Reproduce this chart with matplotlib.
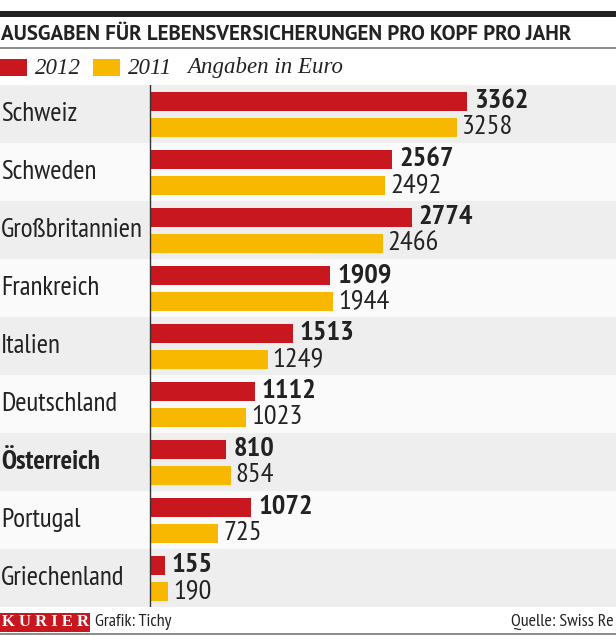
import matplotlib
matplotlib.use("Agg")
import matplotlib.pyplot as plt
from matplotlib.patches import Rectangle
import numpy as np

countries = ["Schweiz", "Schweden", "Großbritannien", "Frankreich", "Italien",
             "Deutschland", "Österreich", "Portugal", "Griechenland"]
values_2012 = [3362, 2567, 2774, 1909, 1513, 1112, 810, 1072, 155]
values_2011 = [3258, 2492, 2466, 1944, 1249, 1023, 854, 725, 190]
highlight = "Österreich"

RED = "#c8171e"
YELLOW = "#f8b800"
GRAY_ROW = "#efeeee"
WHITE_ROW = "#fafafa"
TEXT = "#222222"
FONT = ["PT Sans Narrow", "Liberation Sans Narrow", "DejaVu Sans"]
WIDE = ["PT Sans", "PT Sans Narrow", "DejaVu Sans"]
SERIF = ["Liberation Serif", "DejaVu Serif"]

W, H = 616, 636
fig = plt.figure(figsize=(W / 100, H / 100), dpi=100)
fig.patch.set_facecolor("white")


def fy(py):
    # pixel y from top -> figure fraction
    return 1 - py / H


def fx(px):
    return px / W


# header
fig.patches.append(Rectangle((0, fy(17)), 1, 6 / H, transform=fig.transFigure,
                             color="#222222", lw=0))
fig.text(fx(1), fy(34), "AUSGABEN FÜR LEBENSVERSICHERUNGEN PRO KOPF PRO JAHR",
         family=WIDE, weight="bold", fontsize=15, color=TEXT, va="center", ha="left")
fig.add_artist(plt.Line2D([0, 1], [fy(48), fy(48)], color="#777777", lw=1.2))

# legend
fig.patches.append(Rectangle((fx(0), fy(76)), 27 / W, 17 / H, transform=fig.transFigure,
                             color=RED, lw=0))
fig.text(fx(35), fy(68), "2012", family=SERIF, style="italic", fontsize=16.5,
         color=TEXT, va="center")
fig.patches.append(Rectangle((fx(93), fy(76)), 27 / W, 17 / H, transform=fig.transFigure,
                             color=YELLOW, lw=0))
fig.text(fx(128), fy(68), "2011", family=SERIF, style="italic", fontsize=16.5,
         color=TEXT, va="center")
fig.text(fx(187), fy(68), "Angaben in Euro", family=SERIF, style="italic", fontsize=16.5,
         color=TEXT, va="center")

# main chart
top, bottom = 85, 607
ax = fig.add_axes([0, fy(bottom), 1, (bottom - top) / H])
scale = 0.0943  # px per euro
ax.set_xlim(-150 / scale, (W - 150) / scale)
n = len(countries)
ax.set_ylim(n, 0)
ax.axis("off")

y = np.arange(n) + 0.5
for i in range(n):
    ax.axhspan(i, i + 1, color=GRAY_ROW if i % 2 == 0 else WHITE_ROW, lw=0, zorder=0)

bh = 19 / 58
off = 13 / 58
ax.barh(y - off, values_2012, height=bh, color=RED, zorder=2)
ax.barh(y + off, values_2011, height=bh, color=YELLOW, zorder=2)
ax.plot([0, 0], [0, n], color="#333333", lw=1, zorder=3)

for i, c in enumerate(countries):
    ax.text(1 / scale - 150 / scale, y[i], c, family=FONT, fontsize=19.5,
            weight="bold" if c == highlight else "normal", color=TEXT,
            va="center", ha="left", zorder=4)
    ax.annotate(str(values_2012[i]), (values_2012[i], y[i] - off), xytext=(7, 0),
                textcoords="offset pixels", family=FONT, fontsize=20.5, weight="bold",
                color=TEXT, va="center", ha="left")
    ax.annotate(str(values_2011[i]), (values_2011[i], y[i] + off), xytext=(5, 0),
                textcoords="offset pixels", family=FONT, fontsize=20.5,
                color=TEXT, va="center", ha="left")

# footer
fig.patches.append(Rectangle((0, fy(632)), 90 / W, 19 / H, transform=fig.transFigure,
                             color=RED, lw=0))
fig.text(fx(45), fy(622), "K U R I E R", family=SERIF, fontsize=12, weight="bold",
         color="white", va="center", ha="center")
fig.text(fx(95), fy(622), "Grafik: Tichy", family=FONT, fontsize=13, color=TEXT,
         va="center", ha="left")
fig.text(fx(614), fy(622), "Quelle: Swiss Re", family=FONT, fontsize=13, color=TEXT,
         va="center", ha="right")
fig.add_artist(plt.Line2D([0, 1], [fy(634), fy(634)], color="#777777", lw=1.2))

fig.savefig("out.png", dpi=100)
